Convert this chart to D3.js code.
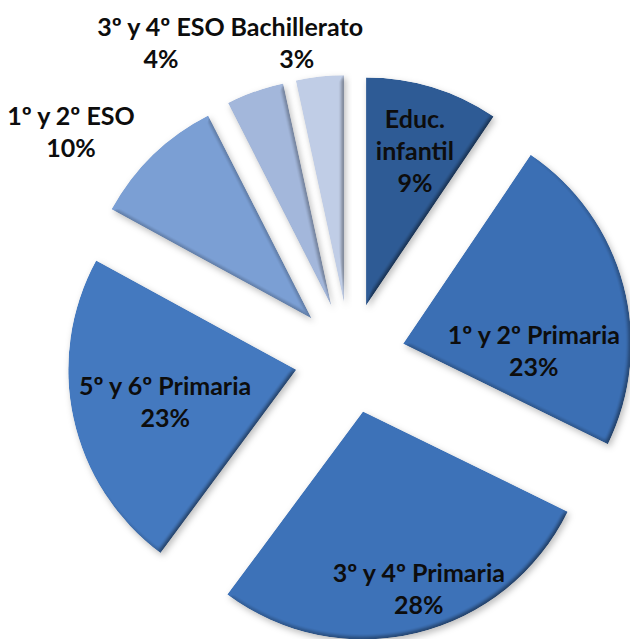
<!DOCTYPE html>
<meta charset="utf-8">
<style>
  body { margin: 0; background: #fff; }
  .label { font-family: Lato, "Open Sans", sans-serif; font-weight: bold; font-size: 25px; fill: #0d0d0d; }
</style>
<body>
<script src="https://d3js.org/d3.v7.min.js"></script>
<script>

// Data (shares in percent)
var categories = ["Educ. infantil", "1º y 2º Primaria", "3º y 4º Primaria", "5º y 6º Primaria",
                  "1º y 2º ESO", "3º y 4º ESO", "Bachillerato"];
var values = [9.45, 22.8, 27.9, 22.8, 9.55, 4.1, 3.4];

// Slice colours, from the darkest to the lightest blue
var colors = ["#2e5b95", "#3b6fb4", "#3d72b8", "#4479bf", "#7b9fd4", "#a3b7db", "#c0cde6"];

// Size of the drawing
var width = 630, height = 639;
var cx = 350, cy = 358,   // pie centre
    radius = 228,
    explode = 55;         // every slice is pulled out by this much

// Where Excel put each label: angle (deg, clockwise from 12 o'clock) and distance from the centre
var labelAngle = [17.4, 87.8, 163.4, 256.6, 309, 329, 350.4];
var labelDist  = [217, 184, 241, 190, 359, 367, 319];
var lineHeight = 32;

var color = d3.scaleOrdinal().domain(categories).range(colors);

var pie = d3.pie().sort(null).value(function(d) { return d.value; });
var arc = d3.arc().innerRadius(0).outerRadius(radius);

var data = categories.map(function(c, i) { return {name: c, value: values[i]}; });
var total = d3.sum(values);

var svg = d3.select("body").append("svg")
    .attr("width", width)
    .attr("height", height);

// Soft bevel + drop shadow, like the Office 3D effect
var defs = svg.append("defs");
var f = defs.append("filter")
    .attr("id", "bevel")
    .attr("x", "-10%").attr("y", "-10%")
    .attr("width", "125%").attr("height", "125%")
    .attr("color-interpolation-filters", "sRGB");
f.append("feGaussianBlur").attr("in", "SourceAlpha").attr("stdDeviation", 2.5).attr("result", "blur");
f.append("feDiffuseLighting")
    .attr("in", "blur").attr("surfaceScale", 2.5).attr("diffuseConstant", 1.35)
    .attr("lighting-color", "#fff").attr("result", "diff")
  .append("feDistantLight").attr("azimuth", 225).attr("elevation", 50);
f.append("feComposite").attr("in", "SourceGraphic").attr("in2", "diff")
    .attr("operator", "arithmetic").attr("k1", 0.6).attr("k2", 0.4).attr("k3", 0).attr("k4", 0)
    .attr("result", "shaded");
f.append("feComposite").attr("in", "shaded").attr("in2", "SourceAlpha")
    .attr("operator", "in").attr("result", "lit");
f.append("feGaussianBlur").attr("in", "SourceAlpha").attr("stdDeviation", 3).attr("result", "sblur");
f.append("feOffset").attr("in", "sblur").attr("dx", 2).attr("dy", 3).attr("result", "soff");
f.append("feFlood").attr("flood-color", "#000").attr("flood-opacity", 0.25).attr("result", "sc");
f.append("feComposite").attr("in", "sc").attr("in2", "soff").attr("operator", "in").attr("result", "shadow");
var m = f.append("feMerge");
m.append("feMergeNode").attr("in", "shadow");
m.append("feMergeNode").attr("in", "lit");

var g = svg.append("g")
    .attr("transform", "translate(" + cx + "," + cy + ")");

function mid(d) { return (d.startAngle + d.endAngle) / 2; }

// The slices, each pushed out along its bisector
g.selectAll(".slice")
    .data(pie(data))
  .enter().append("path")
    .attr("class", "slice")
    .attr("transform", function(d) {
      var a = mid(d);
      return "translate(" + (explode * Math.sin(a)) + "," + (-explode * Math.cos(a)) + ")";
    })
    .attr("d", arc)
    .attr("fill", function(d) { return color(d.data.name); })
    .attr("filter", "url(#bevel)");

// Labels: category name (Educ. infantil is wrapped) and rounded share
var labels = g.selectAll(".label")
    .data(pie(data))
  .enter().append("text")
    .attr("class", "label")
    .attr("text-anchor", "middle")
    .attr("transform", function(d, i) {
      var a = labelAngle[i] * Math.PI / 180;
      return "translate(" + (labelDist[i] * Math.sin(a)) + "," + (-labelDist[i] * Math.cos(a)) + ")";
    });

labels.each(function(d) {
  var lines = d.data.name === "Educ. infantil" ? ["Educ.", "infantil"] : [d.data.name];
  lines.push(Math.round(d.data.value / total * 100) + "%");
  var t = d3.select(this);
  var y0 = -(lines.length - 1) * lineHeight / 2;
  lines.forEach(function(s, k) {
    t.append("tspan")
      .attr("x", 0)
      .attr("y", y0 + k * lineHeight)
      .attr("dy", "0.35em")
      .text(s);
  });
});

</script>
